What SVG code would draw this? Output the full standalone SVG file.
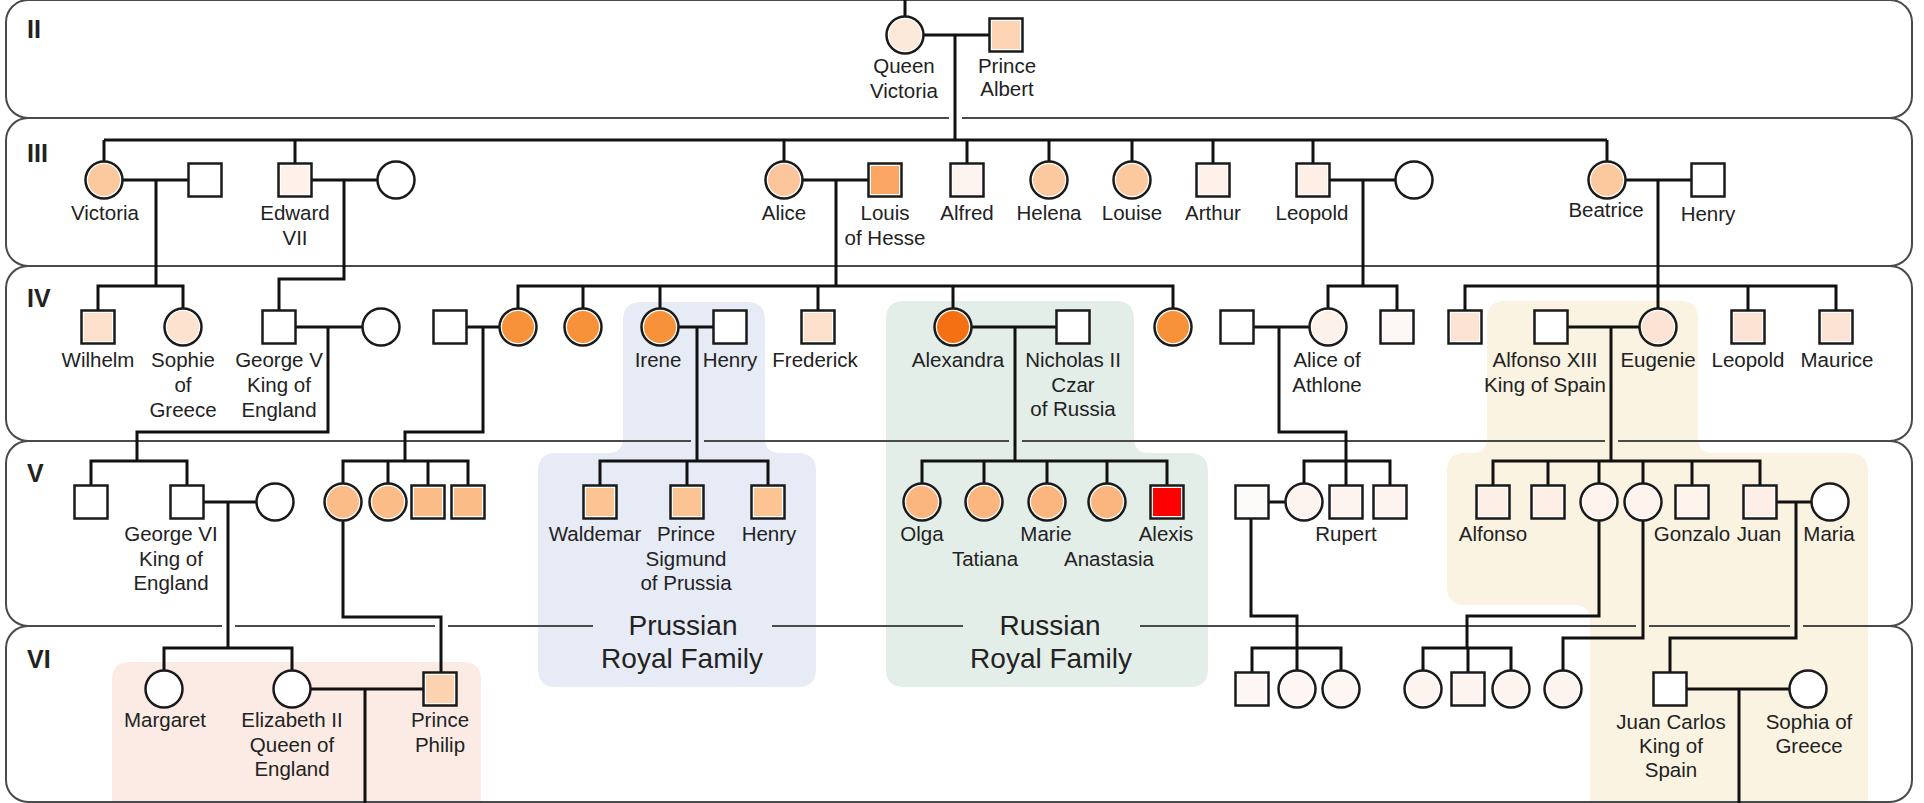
<svg xmlns="http://www.w3.org/2000/svg" width="1924" height="803" viewBox="0 0 1924 803">
<style>
.band{fill:none;stroke:#4a4a4a;stroke-width:2}
.c{fill:none;stroke:#111;stroke-width:3}
.o{fill:#fff;stroke:#1a1a1a;stroke-width:2.5}
.t{font-family:"Liberation Sans",Arial,sans-serif;font-size:20.5px;fill:#222;text-anchor:middle}
.big{font-family:"Liberation Sans",Arial,sans-serif;font-size:28px;fill:#222;text-anchor:middle}
.gen{font-family:"Liberation Sans",Arial,sans-serif;font-size:25px;font-weight:bold;fill:#222}
</style>
<rect x="0" y="0" width="1924" height="803" fill="#fff"/>
<g id="family-boxes">
<path id="box-uk" d="M112,803 V680 Q112,662 130,662 H463 Q481,662 481,680 V803 Z" fill="#fbebe4"/>
<path id="box-prussia" d="M641,302 H747 Q765,302 765,320 V438 Q765,453 780,453 H798 Q816,453 816,471 V669 Q816,687 798,687 H556 Q538,687 538,669 V471 Q538,453 556,453 H608 Q623,453 623,438 V320 Q623,302 641,302 Z" fill="#e7ebf5"/>
<path id="box-russia" d="M904,301 H1116 Q1134,301 1134,319 V438 Q1134,453 1149,453 H1190 Q1208,453 1208,471 V669 Q1208,687 1190,687 H904 Q886,687 886,669 V319 Q886,301 904,301 Z" fill="#e4eee9"/>
<path id="box-spain" d="M1505,301 H1680 Q1698,301 1698,319 V438 Q1698,453 1713,453 H1850 Q1868,453 1868,471 V803 H1590 V620 Q1590,605 1575,605 H1465 Q1447,605 1447,587 V471 Q1447,453 1465,453 H1472 Q1487,453 1487,438 V319 Q1487,301 1505,301 Z" fill="#faf3e1"/>
</g>
<g id="bands">
<rect class="band" x="6" y="0" width="1906" height="118" rx="22"/>
<rect class="band" x="6" y="118" width="1906" height="148" rx="22"/>
<rect class="band" x="6" y="266" width="1906" height="175" rx="22"/>
<rect class="band" x="6" y="441" width="1906" height="185" rx="22"/>
<rect class="band" x="6" y="626" width="1906" height="176" rx="22"/>
<text class="gen" x="27" y="38">II</text>
<text class="gen" x="27" y="162">III</text>
<text class="gen" x="27" y="307">IV</text>
<text class="gen" x="27" y="482">V</text>
<text class="gen" x="27" y="668">VI</text>
</g>
<g id="gaps">
<rect x="949" y="114" width="13" height="8" fill="#fff"/>
<rect x="691" y="437" width="13" height="8" fill="#e7ebf5"/>
<rect x="1009" y="437" width="13" height="8" fill="#e4eee9"/>
<rect x="1605" y="437" width="13" height="8" fill="#faf3e1"/>
<rect x="222" y="622" width="13" height="8" fill="#fff"/>
<rect x="435" y="622" width="13" height="8" fill="#fff"/>
<rect x="1636" y="622" width="13" height="8" fill="#faf3e1"/>
<rect x="1790" y="622" width="13" height="8" fill="#faf3e1"/>
<rect x="593" y="621" width="179" height="10" fill="#e7ebf5"/>
<rect x="963" y="621" width="177" height="10" fill="#e4eee9"/>
</g>
<g id="connectors" class="c">
<path d="M905,0 V35 M905,35 H1006 M955,35 V140 M104,140 H1607"/>
<path d="M104,140 V180 M295,140 V180 M784,140 V180 M967,140 V180 M1049,140 V180 M1132,140 V180 M1213,140 V180 M1313,140 V180 M1607,140 V180"/>
<path d="M104,180 H205 M156,180 V286 M295,180 H396 M344,180 V279 H279 V327 M784,180 H885 M836,180 V286 M1313,180 H1414 M1363,180 V286 M1607,180 H1708 M1658,180 V327"/>
<path d="M98,327 V286 H183 V327 M518,327 V286 H1173 V327 M583,286 V327 M660,286 V327 M818,286 V327 M953,286 V327 M1328,327 V286 H1397 V327 M1465,327 V286 H1836 V327 M1748,286 V327"/>
<path d="M279,327 H381 M328,327 V432 H137 V461 M450,327 H518 M483,327 V432 H405 V461 M660,327 H730 M697,327 V461 M953,327 H1073 M1015,327 V461 M1237,327 H1328 M1279,327 V432 H1346 V461 M1551,327 H1658 M1611,327 V461"/>
<path d="M91,502 V461 H187 V502 M343,502 V461 H468 V502 M388,461 V502 M428,461 V502 M600,502 V461 H768 V502 M687,461 V502 M922,502 V461 H1167 V502 M984,461 V502 M1047,461 V502 M1107,461 V502 M1304,502 V461 H1390 V502 M1346,461 V502 M1493,502 V461 H1760 V502 M1548,461 V502 M1599,461 V502 M1643,461 V502 M1692,461 V502"/>
<path d="M187,502 H275 M228,502 V648 M343,502 V617 H441 V689 M1252,502 H1304 M1251,502 V616 H1297 V648 M1599,502 V616 H1467 V648 M1643,502 V638 H1563 V689 M1760,502 H1830 M1796,502 V638 H1670 V689"/>
<path d="M164,689 V648 H292 V689 M1252,689 V648 H1341 V689 M1297,648 V689 M1423,689 V648 H1511 V689 M1468,648 V689 M292,689 H440 M365,689 V803 M1670,689 H1808 M1739,689 V803"/>
</g>
<g id="gen-II">
<g id="queen-victoria"><circle class="o" cx="905" cy="35" r="18.5"/><circle cx="905" cy="35" r="16" fill="#fde9da"/><text class="t" x="904" y="73">Queen<tspan x="904" dy="25">Victoria</tspan></text></g>
<g id="prince-albert"><rect class="o" x="989.5" y="18.5" width="33" height="33"/><rect x="992" y="21" width="28" height="28" fill="#fdd5b4"/><text class="t" x="1007" y="73">Prince<tspan x="1007" dy="23">Albert</tspan></text></g>
</g>
<g id="gen-III">
<g id="victoria-iii"><circle class="o" cx="104" cy="180" r="18.5"/><circle cx="104" cy="180" r="16" fill="#fcc89d"/><text class="t" x="105" y="220">Victoria</text></g>
<g id="victoria-spouse"><rect class="o" x="188.5" y="163.5" width="33" height="33"/></g>
<g id="edward-vii"><rect class="o" x="278.5" y="163.5" width="33" height="33"/><rect x="281" y="166" width="28" height="28" fill="#fdf1ea"/><text class="t" x="295" y="220">Edward<tspan x="295" dy="25">VII</tspan></text></g>
<g id="edward-spouse"><circle class="o" cx="396" cy="180" r="18.5"/></g>
<g id="alice"><circle class="o" cx="784" cy="180" r="18.5"/><circle cx="784" cy="180" r="16" fill="#fcc59b"/><text class="t" x="784" y="220">Alice</text></g>
<g id="louis-of-hesse"><rect class="o" x="868.5" y="163.5" width="33" height="33"/><rect x="871" y="166" width="28" height="28" fill="#fba663"/><text class="t" x="885" y="220">Louis<tspan x="885" dy="25">of Hesse</tspan></text></g>
<g id="alfred"><rect class="o" x="950.5" y="163.5" width="33" height="33"/><rect x="953" y="166" width="28" height="28" fill="#fef4ef"/><text class="t" x="967" y="220">Alfred</text></g>
<g id="helena"><circle class="o" cx="1049" cy="180" r="18.5"/><circle cx="1049" cy="180" r="16" fill="#fcc89d"/><text class="t" x="1049" y="220">Helena</text></g>
<g id="louise"><circle class="o" cx="1132" cy="180" r="18.5"/><circle cx="1132" cy="180" r="16" fill="#fcc89d"/><text class="t" x="1132" y="220">Louise</text></g>
<g id="arthur"><rect class="o" x="1196.5" y="163.5" width="33" height="33"/><rect x="1199" y="166" width="28" height="28" fill="#fef1ea"/><text class="t" x="1213" y="220">Arthur</text></g>
<g id="leopold-iii"><rect class="o" x="1296.5" y="163.5" width="33" height="33"/><rect x="1299" y="166" width="28" height="28" fill="#fdeee6"/><text class="t" x="1312" y="220">Leopold</text></g>
<g id="leopold-spouse"><circle class="o" cx="1414" cy="180" r="18.5"/></g>
<g id="beatrice"><circle class="o" cx="1607" cy="180" r="18.5"/><circle cx="1607" cy="180" r="16" fill="#fcc89d"/><text class="t" x="1606" y="217">Beatrice</text></g>
<g id="henry-iii"><rect class="o" x="1691.5" y="163.5" width="33" height="33"/><text class="t" x="1708" y="221">Henry</text></g>
</g>
<g id="gen-IV">
<g id="wilhelm"><rect class="o" x="81.5" y="310.5" width="33" height="33"/><rect x="84" y="313" width="28" height="28" fill="#fde0cc"/><text class="t" x="98" y="367">Wilhelm</text></g>
<g id="sophie-of-greece-iv"><circle class="o" cx="183" cy="327" r="18.5"/><circle cx="183" cy="327" r="16" fill="#fde2cf"/><text class="t" x="183" y="367">Sophie<tspan x="183" dy="25">of</tspan><tspan x="183" dy="25">Greece</tspan></text></g>
<g id="george-v"><rect class="o" x="262.5" y="310.5" width="33" height="33"/><text class="t" x="279" y="367">George V<tspan x="279" dy="25">King of</tspan><tspan x="279" dy="25">England</tspan></text></g>
<g id="george-v-spouse"><circle class="o" cx="381" cy="327" r="18.5"/></g>
<g id="iv-male-450"><rect class="o" x="433.5" y="310.5" width="33" height="33"/></g>
<g id="iv-female-518"><circle class="o" cx="518" cy="327" r="18.5"/><circle cx="518" cy="327" r="16" fill="#f7913a"/></g>
<g id="iv-female-583"><circle class="o" cx="583" cy="327" r="18.5"/><circle cx="583" cy="327" r="16" fill="#f7913a"/></g>
<g id="irene"><circle class="o" cx="660" cy="327" r="18.5"/><circle cx="660" cy="327" r="16" fill="#f7913a"/><text class="t" x="658" y="367">Irene</text></g>
<g id="henry-iv"><rect class="o" x="713.5" y="310.5" width="33" height="33"/><text class="t" x="730" y="367">Henry</text></g>
<g id="frederick"><rect class="o" x="801.5" y="310.5" width="33" height="33"/><rect x="804" y="313" width="28" height="28" fill="#fde0cb"/><text class="t" x="815" y="367">Frederick</text></g>
<g id="alexandra"><circle class="o" cx="953" cy="327" r="18.5"/><circle cx="953" cy="327" r="16" fill="#f47012"/><text class="t" x="958" y="367">Alexandra</text></g>
<g id="nicholas-ii"><rect class="o" x="1056.5" y="310.5" width="33" height="33"/><text class="t" x="1073" y="367">Nicholas II<tspan x="1073" dy="25">Czar</tspan><tspan x="1073" dy="24">of Russia</tspan></text></g>
<g id="iv-female-1173"><circle class="o" cx="1173" cy="327" r="18.5"/><circle cx="1173" cy="327" r="16" fill="#f7913a"/></g>
<g id="iv-male-1237"><rect class="o" x="1220.5" y="310.5" width="33" height="33"/></g>
<g id="alice-of-athlone"><circle class="o" cx="1328" cy="327" r="18.5"/><circle cx="1328" cy="327" r="16" fill="#fdf1ec"/><text class="t" x="1327" y="367">Alice of<tspan x="1327" dy="25">Athlone</tspan></text></g>
<g id="iv-male-1397"><rect class="o" x="1380.5" y="310.5" width="33" height="33"/><rect x="1383" y="313" width="28" height="28" fill="#fdf8f6"/></g>
<g id="iv-male-1465"><rect class="o" x="1448.5" y="310.5" width="33" height="33"/><rect x="1451" y="313" width="28" height="28" fill="#fde3d3"/></g>
<g id="alfonso-xiii"><rect class="o" x="1534.5" y="310.5" width="33" height="33"/><text class="t" x="1545" y="367">Alfonso XIII<tspan x="1545" dy="25">King of Spain</tspan></text></g>
<g id="eugenie"><circle class="o" cx="1658" cy="327" r="18.5"/><circle cx="1658" cy="327" r="16" fill="#fde3d3"/><text class="t" x="1658" y="367">Eugenie</text></g>
<g id="leopold-iv"><rect class="o" x="1731.5" y="310.5" width="33" height="33"/><rect x="1734" y="313" width="28" height="28" fill="#fde3d3"/><text class="t" x="1748" y="367">Leopold</text></g>
<g id="maurice"><rect class="o" x="1819.5" y="310.5" width="33" height="33"/><rect x="1822" y="313" width="28" height="28" fill="#fde3d3"/><text class="t" x="1837" y="367">Maurice</text></g>
</g>
<g id="gen-V">
<g id="v-male-91"><rect class="o" x="74.5" y="485.5" width="33" height="33"/></g>
<g id="george-vi"><rect class="o" x="170.5" y="485.5" width="33" height="33"/><text class="t" x="171" y="541">George VI<tspan x="171" dy="25">King of</tspan><tspan x="171" dy="24">England</tspan></text></g>
<g id="george-vi-spouse"><circle class="o" cx="275" cy="502" r="18.5"/></g>
<g id="v-female-343"><circle class="o" cx="343" cy="502" r="18.5"/><circle cx="343" cy="502" r="16" fill="#fbbc88"/></g>
<g id="v-female-388"><circle class="o" cx="388" cy="502" r="18.5"/><circle cx="388" cy="502" r="16" fill="#fbbc88"/></g>
<g id="v-male-428"><rect class="o" x="411.5" y="485.5" width="33" height="33"/><rect x="414" y="488" width="28" height="28" fill="#fbbc88"/></g>
<g id="v-male-468"><rect class="o" x="451.5" y="485.5" width="33" height="33"/><rect x="454" y="488" width="28" height="28" fill="#fbbc88"/></g>
<g id="waldemar"><rect class="o" x="583.5" y="485.5" width="33" height="33"/><rect x="586" y="488" width="28" height="28" fill="#fcc493"/><text class="t" x="595" y="541">Waldemar</text></g>
<g id="prince-sigmund"><rect class="o" x="670.5" y="485.5" width="33" height="33"/><rect x="673" y="488" width="28" height="28" fill="#fcc493"/><text class="t" x="686" y="541">Prince<tspan x="686" dy="25">Sigmund</tspan><tspan x="686" dy="24">of Prussia</tspan></text></g>
<g id="henry-v"><rect class="o" x="751.5" y="485.5" width="33" height="33"/><rect x="754" y="488" width="28" height="28" fill="#fcc493"/><text class="t" x="769" y="541">Henry</text></g>
<g id="olga"><circle class="o" cx="922" cy="502" r="18.5"/><circle cx="922" cy="502" r="16" fill="#fbb67f"/><text class="t" x="922" y="541">Olga</text></g>
<g id="tatiana"><circle class="o" cx="984" cy="502" r="18.5"/><circle cx="984" cy="502" r="16" fill="#fbb67f"/><text class="t" x="985" y="566">Tatiana</text></g>
<g id="marie"><circle class="o" cx="1047" cy="502" r="18.5"/><circle cx="1047" cy="502" r="16" fill="#fbb67f"/><text class="t" x="1046" y="541">Marie</text></g>
<g id="anastasia"><circle class="o" cx="1107" cy="502" r="18.5"/><circle cx="1107" cy="502" r="16" fill="#fbb67f"/><text class="t" x="1109" y="566">Anastasia</text></g>
<g id="alexis"><rect class="o" x="1150.5" y="485.5" width="33" height="33"/><rect x="1153" y="488" width="28" height="28" fill="#f00"/><text class="t" x="1166" y="541">Alexis</text></g>
<g id="v-male-1252"><rect class="o" x="1235.5" y="485.5" width="33" height="33"/><rect x="1238" y="488" width="28" height="28" fill="#fdfafa"/></g>
<g id="v-female-1304"><circle class="o" cx="1304" cy="502" r="18.5"/><circle cx="1304" cy="502" r="16" fill="#fdf3ef"/></g>
<g id="rupert"><rect class="o" x="1329.5" y="485.5" width="33" height="33"/><rect x="1332" y="488" width="28" height="28" fill="#fdf3ef"/><text class="t" x="1346" y="541">Rupert</text></g>
<g id="v-male-1390"><rect class="o" x="1373.5" y="485.5" width="33" height="33"/><rect x="1376" y="488" width="28" height="28" fill="#fdf3ef"/></g>
<g id="alfonso"><rect class="o" x="1476.5" y="485.5" width="33" height="33"/><rect x="1479" y="488" width="28" height="28" fill="#fdeee6"/><text class="t" x="1493" y="541">Alfonso</text></g>
<g id="v-male-1548"><rect class="o" x="1531.5" y="485.5" width="33" height="33"/><rect x="1534" y="488" width="28" height="28" fill="#fdeee6"/></g>
<g id="v-female-1599"><circle class="o" cx="1599" cy="502" r="18.5"/><circle cx="1599" cy="502" r="16" fill="#fdf2ec"/></g>
<g id="v-female-1643"><circle class="o" cx="1643" cy="502" r="18.5"/><circle cx="1643" cy="502" r="16" fill="#fdf2ec"/></g>
<g id="gonzalo"><rect class="o" x="1675.5" y="485.5" width="33" height="33"/><rect x="1678" y="488" width="28" height="28" fill="#fdf2ec"/><text class="t" x="1692" y="541">Gonzalo</text></g>
<g id="juan"><rect class="o" x="1743.5" y="485.5" width="33" height="33"/><rect x="1746" y="488" width="28" height="28" fill="#fdefe7"/><text class="t" x="1759" y="541">Juan</text></g>
<g id="maria"><circle class="o" cx="1830" cy="502" r="18.5"/><text class="t" x="1829" y="541">Maria</text></g>
</g>
<g id="gen-VI">
<g id="margaret"><circle class="o" cx="164" cy="689" r="18.5"/><text class="t" x="165" y="727">Margaret</text></g>
<g id="elizabeth-ii"><circle class="o" cx="292" cy="689" r="18.5"/><text class="t" x="292" y="727">Elizabeth II<tspan x="292" dy="25">Queen of</tspan><tspan x="292" dy="24">England</tspan></text></g>
<g id="prince-philip"><rect class="o" x="423.5" y="672.5" width="33" height="33"/><rect x="426" y="675" width="28" height="28" fill="#fcd3b0"/><text class="t" x="440" y="727">Prince<tspan x="440" dy="25">Philip</tspan></text></g>
<g id="vi-male-1252"><rect class="o" x="1235.5" y="672.5" width="33" height="33"/><rect x="1238" y="675" width="28" height="28" fill="#fdf6f2"/></g>
<g id="vi-female-1297"><circle class="o" cx="1297" cy="689" r="18.5"/><circle cx="1297" cy="689" r="16" fill="#fdf6f2"/></g>
<g id="vi-female-1341"><circle class="o" cx="1341" cy="689" r="18.5"/><circle cx="1341" cy="689" r="16" fill="#fdf6f2"/></g>
<g id="vi-female-1423"><circle class="o" cx="1423" cy="689" r="18.5"/><circle cx="1423" cy="689" r="16" fill="#fdf4ef"/></g>
<g id="vi-male-1468"><rect class="o" x="1451.5" y="672.5" width="33" height="33"/><rect x="1454" y="675" width="28" height="28" fill="#fdf4ef"/></g>
<g id="vi-female-1511"><circle class="o" cx="1511" cy="689" r="18.5"/><circle cx="1511" cy="689" r="16" fill="#fdf4ef"/></g>
<g id="vi-female-1563"><circle class="o" cx="1563" cy="689" r="18.5"/><circle cx="1563" cy="689" r="16" fill="#fdf4ef"/></g>
<g id="juan-carlos"><rect class="o" x="1653.5" y="672.5" width="33" height="33"/><text class="t" x="1671" y="729">Juan Carlos<tspan x="1671" dy="24">King of</tspan><tspan x="1671" dy="24">Spain</tspan></text></g>
<g id="sophia-of-greece"><circle class="o" cx="1808" cy="689" r="18.5"/><text class="t" x="1809" y="729">Sophia of<tspan x="1809" dy="24">Greece</tspan></text></g>
</g>
<g id="family-labels">
<text class="big" x="683" y="635">Prussian<tspan x="682" dy="33">Royal Family</tspan></text>
<text class="big" x="1050" y="635">Russian<tspan x="1051" dy="33">Royal Family</tspan></text>
</g>
</svg>
